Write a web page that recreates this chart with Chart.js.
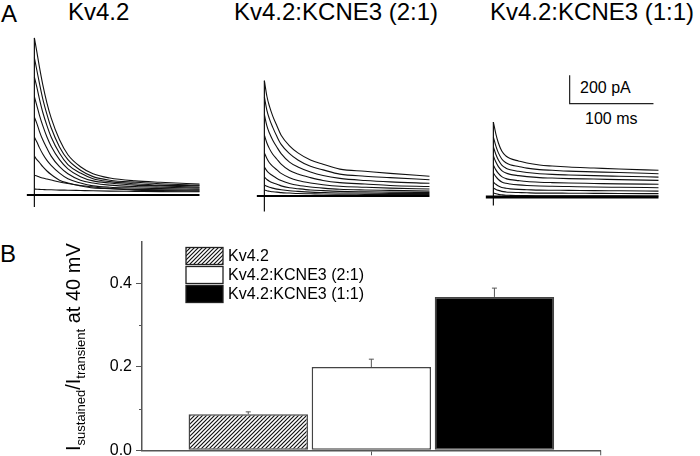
<!DOCTYPE html>
<html>
<head>
<meta charset="utf-8">
<script src="https://cdn.jsdelivr.net/npm/chart.js@4.4.1/dist/chart.umd.min.js"></script>
<style>
  body { margin: 0; width: 700px; height: 456px; position: relative; overflow: hidden; background: #fff;
         font-family: "Liberation Sans", Arial, sans-serif; color: #000; }
  .lbl { position: absolute; white-space: nowrap; line-height: 1; }
  canvas { position: absolute; }
</style>
</head>
<body>
<div class="lbl" style="left:1px;top:2px;font-size:24px">A</div>
<div class="lbl" style="left:68px;top:0px;font-size:24px">Kv4.2</div>
<div class="lbl" style="left:234px;top:0px;font-size:24px">Kv4.2:KCNE3 (2:1)</div>
<div class="lbl" style="left:490px;top:0px;font-size:24px">Kv4.2:KCNE3 (1:1)</div>
<div class="lbl" style="left:580px;top:80px;font-size:16px">200 pA</div>
<div class="lbl" style="left:585px;top:111px;font-size:16px">100 ms</div>
<div class="lbl" style="left:0px;top:242px;font-size:24px">B</div>

<canvas id="traceKv42" width="176" height="185" style="left:26px;top:30px"></canvas>
<canvas id="trace21" width="176" height="185" style="left:256px;top:31px"></canvas>
<canvas id="trace11" width="176" height="185" style="left:485px;top:32px"></canvas>
<canvas id="chartRatio" width="700" height="226" style="left:0px;top:230px"></canvas>

<script>
(function() {
  'use strict';

  // ---- Panel A: current traces (pA) sampled at these times (ms) ----
  const traceTimes = [0, 3, 6, 10, 15, 20, 30, 40, 55, 70, 90, 120, 150, 197];

  const kv42Traces = [
    [1110, 1010, 905, 780, 650, 545, 390, 285, 200, 150, 120, 100, 90, 78],
    [970, 880, 790, 680, 570, 475, 340, 250, 175, 130, 105, 90, 80, 70],
    [835, 760, 680, 585, 490, 410, 295, 215, 155, 115, 95, 80, 70, 65],
    [695, 630, 565, 490, 410, 345, 250, 185, 130, 100, 85, 70, 65, 55],
    [550, 505, 450, 390, 330, 275, 200, 150, 105, 85, 70, 60, 55, 50],
    [410, 375, 335, 290, 245, 210, 155, 115, 85, 65, 55, 50, 45, 42],
    [275, 250, 230, 200, 170, 145, 105, 85, 65, 50, 45, 40, 37, 35],
    [140, 135, 127, 120, 113, 106, 92, 81, 67, 57, 46, 35, 32, 28],
    [42, 41, 40, 39, 37, 37, 35, 34, 32, 30, 28, 26, 24, 23]
  ];

  const kcne3Ratio21Traces = [
    [815, 705, 635, 565, 495, 430, 355, 305, 255, 225, 190, 175, 160, 140],
    [700, 605, 545, 485, 420, 365, 300, 255, 210, 185, 155, 140, 130, 115],
    [575, 495, 445, 395, 345, 300, 240, 205, 170, 145, 125, 110, 100, 90],
    [430, 375, 335, 295, 260, 225, 180, 155, 130, 110, 95, 85, 75, 67],
    [305, 265, 235, 210, 185, 160, 130, 110, 92, 80, 69, 62, 56, 50],
    [205, 178, 160, 143, 124, 109, 89, 76, 64, 56, 48, 43, 40, 35],
    [134, 117, 105, 94, 83, 72, 59, 52, 43, 38, 33, 30, 28, 25],
    [78, 69, 62, 56, 49, 44, 37, 33, 28, 25, 22, 21, 19, 18],
    [42, 37, 34, 30, 28, 24, 21, 18, 16, 14, 13, 12, 11, 11]
  ];

  const kcne3Ratio11Traces = [
    [530, 445, 382, 325, 290, 272, 255, 240, 226, 219, 212, 205, 198, 189],
    [424, 360, 312, 269, 242, 228, 216, 204, 194, 189, 183, 178, 173, 165],
    [354, 301, 262, 226, 204, 193, 182, 173, 165, 160, 156, 151, 147, 141],
    [290, 247, 215, 187, 169, 160, 151, 144, 137, 134, 130, 127, 123, 118],
    [226, 192, 167, 144, 130, 123, 116, 110, 105, 102, 99, 96, 93, 90],
    [170, 144, 124, 107, 97, 92, 86, 82, 78, 76, 74, 71, 69, 66],
    [106, 90, 78, 68, 62, 58, 54, 52, 49, 48, 47, 45, 44, 42],
    [64, 54, 47, 40, 36, 34, 32, 30, 28, 28, 27, 26, 25, 24],
    [28, 23, 19, 16, 13, 12, 11, 10, 9, 8, 8, 8, 8, 7]
  ];

  // lower end of the vertical step marker at t = 0 (pA)
  const stepMarkerBottom = [-85, -110, -60];
  const baselineTimes = [-9, 197];
  // scale bar: 100 ms x 200 pA
  const scaleBarTime = [91, 91, 191];
  const scaleBarCurrent = [860, 660, 660];

  // ---- Panel B: I sustained / I transient at 40 mV ----
  const groups = ['Kv4.2', 'Kv4.2:KCNE3 (2:1)', 'Kv4.2:KCNE3 (1:1)'];
  const ratioMeans = [0.086, 0.199, 0.367];
  const ratioErrors = [0.006, 0.019, 0.021];
  const yTickValues = [0, 0.2, 0.4];
  const yMinorTicks = [0.1, 0.3];

  const FONT = '"Liberation Sans", Arial, sans-serif';

  function toPoints(xs, ys) {
    return xs.map((x, i) => ({ x: x, y: ys[i] }));
  }

  function traceChart(id, traces, markerBottom, baseWidth, extra) {
    const datasets = [];
    datasets.push({
      data: toPoints(baselineTimes, [0, 0]),
      borderColor: '#000', borderWidth: baseWidth, pointRadius: 0
    });
    traces.forEach(tr => {
      datasets.push({
        data: toPoints(traceTimes, tr),
        borderColor: '#111', borderWidth: 1.1, pointRadius: 0,
        cubicInterpolationMode: 'monotone'
      });
    });
    datasets.push({
      data: toPoints([0, 0], [markerBottom, traces[0][0]]),
      borderColor: '#111', borderWidth: 1.2, pointRadius: 0
    });
    if (extra) datasets.push(extra);

    return new Chart(document.getElementById(id).getContext('2d'), {
      type: 'line',
      data: { datasets: datasets },
      options: {
        responsive: false,
        animation: false,
        layout: { padding: 0 },
        plugins: { legend: { display: false }, tooltip: { enabled: false } },
        scales: {
          x: { type: 'linear', min: -10, max: 200, display: false },
          y: { type: 'linear', min: -141, max: 1166, display: false }
        }
      }
    });
  }

  traceChart('traceKv42', kv42Traces, stepMarkerBottom[0], 2);
  traceChart('trace21', kcne3Ratio21Traces, stepMarkerBottom[1], 2);
  traceChart('trace11', kcne3Ratio11Traces, stepMarkerBottom[2], 3, {
    data: toPoints(scaleBarTime, scaleBarCurrent),
    borderColor: '#222', borderWidth: 1.2, pointRadius: 0
  });

  // hatch pattern for the Kv4.2 bar
  function hatch() {
    const c = document.createElement('canvas');
    c.width = 4; c.height = 4;
    const g = c.getContext('2d');
    g.fillStyle = '#fff';
    g.fillRect(0, 0, 4, 4);
    g.strokeStyle = '#111';
    g.lineWidth = 1.2;
    g.beginPath();
    g.moveTo(-1, 5); g.lineTo(5, -1);
    g.moveTo(-1, 1); g.lineTo(1, -1);
    g.moveTo(3, 5); g.lineTo(5, 3);
    g.stroke();
    return g.createPattern(c, 'repeat');
  }

  const canvasB = document.getElementById('chartRatio');
  const ctxB = canvasB.getContext('2d');
  const fills = [hatch(), '#ffffff', '#000000'];

  const extras = {
    id: 'ratioExtras',
    afterDatasetsDraw(chart) {
      const ctx = chart.ctx;
      const y = chart.scales.y;
      const area = chart.chartArea;
      ctx.save();

      // error bars (upper half only)
      ctx.strokeStyle = '#555';
      ctx.lineWidth = 1;
      chart.data.datasets.forEach((ds, i) => {
        const el = chart.getDatasetMeta(i).data[0];
        const top = y.getPixelForValue(ratioMeans[i] + ratioErrors[i]);
        ctx.beginPath();
        ctx.moveTo(el.x, el.y);
        ctx.lineTo(el.x, top);
        ctx.moveTo(el.x - 2.5, top);
        ctx.lineTo(el.x + 2.5, top);
        ctx.stroke();
      });

      // minor ticks
      yMinorTicks.forEach(v => {
        const py = Math.round(y.getPixelForValue(v)) + 0.5;
        ctx.beginPath();
        ctx.moveTo(area.left - 3, py);
        ctx.lineTo(area.left, py);
        ctx.stroke();
      });
      ctx.beginPath();
      ctx.moveTo(area.right, area.bottom);
      ctx.lineTo(area.right, area.bottom + 5);
      ctx.stroke();

      // legend
      ctx.font = '16px ' + FONT;
      ctx.textBaseline = 'middle';
      chart.data.datasets.forEach((ds, i) => {
        const bx = 186, by = 17.5 + i * 19, bw = 37, bh = 17;
        ctx.fillStyle = ds.backgroundColor;
        ctx.fillRect(bx, by, bw, bh);
        ctx.strokeStyle = '#222';
        ctx.lineWidth = 1.3;
        ctx.strokeRect(bx, by, bw, bh);
        ctx.fillStyle = '#000';
        ctx.fillText(ds.label, 228, by + bh / 2 + 1);
      });

      // y axis title with subscripts
      ctx.translate(80, 221);
      ctx.rotate(-Math.PI / 2);
      ctx.textBaseline = 'alphabetic';
      ctx.fillStyle = '#000';
      const parts = [
        ['I', 20, 0], ['sustained', 13, 5], ['/I', 20, 0], ['transient', 13, 5], [' at 40 mV', 20, 0]
      ];
      let px = 0;
      parts.forEach(p => {
        ctx.font = p[1] + 'px ' + FONT;
        ctx.fillText(p[0], px, p[2]);
        px += ctx.measureText(p[0]).width;
      });
      ctx.restore();
    }
  };

  new Chart(ctxB, {
    type: 'bar',
    data: {
      labels: [''],
      datasets: groups.map((g, i) => ({
        label: g,
        data: [ratioMeans[i]],
        backgroundColor: fills[i],
        borderColor: '#444',
        borderWidth: 1.5,
        borderSkipped: false,
        categoryPercentage: 0.805,
        barPercentage: 0.97
      }))
    },
    options: {
      responsive: false,
      animation: false,
      layout: { padding: { top: 11.3, right: 99.3, bottom: 0, left: 0 } },
      plugins: { legend: { display: false }, tooltip: { enabled: false } },
      scales: {
        x: {
          grid: { display: true, drawOnChartArea: false, offset: false, tickLength: 5, color: '#555' },
          border: { color: '#555', width: 1.5 },
          ticks: { display: false },
          afterFit: s => { s.height = 5.7; }
        },
        y: {
          min: 0,
          max: 0.5,
          grid: { drawOnChartArea: false, tickLength: 6, color: '#555' },
          border: { color: '#555', width: 1.5 },
          ticks: {
            stepSize: 0.2,
            includeBounds: false,
            padding: 4,
            color: '#000',
            font: { family: FONT, size: 16 },
            callback: v => yTickValues.some(t => Math.abs(t - v) < 1e-6) ? v.toFixed(1) : ''
          },
          afterFit: s => { s.width = 142; s.paddingTop = 0; s.paddingBottom = 0; }
        }
      }
    },
    plugins: [extras]
  });
})();
</script>
</body>
</html>
